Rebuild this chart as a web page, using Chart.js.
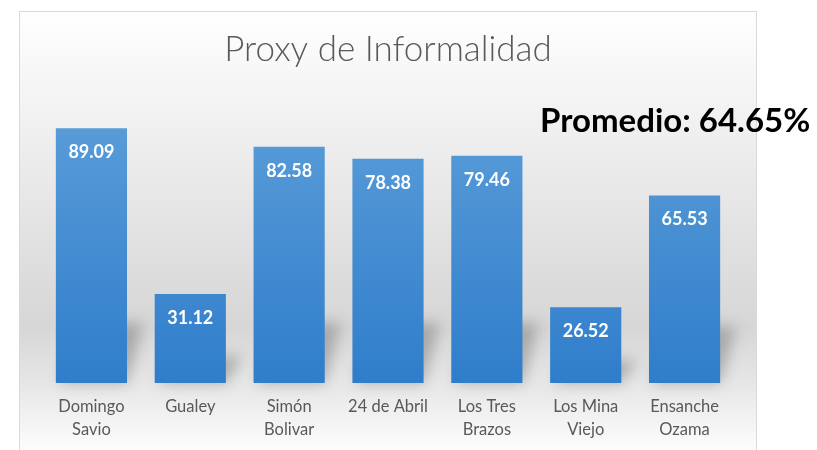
<!DOCTYPE html>
<html>
<head>
<meta charset="utf-8">
<script src="https://cdn.jsdelivr.net/npm/chart.js@4"></script>
<style>
  html, body { margin: 0; padding: 0; background: #fff; }
  #wrap { width: 817px; height: 450px; }
</style>
</head>
<body>
<div id="wrap"><canvas id="barChart" width="817" height="450"></canvas></div>
<script>
var categories = [['Domingo', 'Savio'], 'Gualey', ['Simón', 'Bolivar'], '24 de Abril', ['Los Tres', 'Brazos'], ['Los Mina', 'Viejo'], ['Ensanche', 'Ozama']];
var informalidad = [89.09, 31.12, 82.58, 78.38, 79.46, 26.52, 65.53];
var promedioText = 'Promedio: 64.65%';

// chart box with the gray gradient background
var boxPlugin = {
    id: 'box',
    beforeDraw: function(chart) {
        var c = chart.ctx;
        c.save();
        c.fillStyle = '#ffffff';
        c.fillRect(0, 0, chart.width, chart.height);
        var g = c.createLinearGradient(0, 11, 0, 450);
        g.addColorStop(0, '#ffffff');
        g.addColorStop(0.72, '#d6d6d6');
        g.addColorStop(0.86, '#e8e8e8');
        g.addColorStop(1, '#fdfdfd');
        c.fillStyle = g;
        c.fillRect(20, 11, 737, 450);
        c.strokeStyle = '#d9d9d9';
        c.lineWidth = 1;
        c.strokeRect(19.5, 11.5, 737, 450);
        c.restore();
    }
};

// soft shadow behind each bar
var shadowPlugin = {
    id: 'barShadow',
    beforeDatasetsDraw: function(chart) {
        var c = chart.ctx;
        var meta = chart.getDatasetMeta(0);
        c.save();
        c.filter = 'blur(7px)';
        c.fillStyle = 'rgba(120,120,120,0.5)';
        meta.data.forEach(function(bar) {
            var x0 = bar.x - bar.width / 2, x1 = bar.x + bar.width / 2;
            var h = Math.min((bar.base - bar.y) * 0.3, 60);
            c.beginPath();
            c.moveTo(x0 + 4, bar.base);
            c.lineTo(x1, bar.base);
            c.lineTo(x1 + 16, bar.base - h);
            c.lineTo(x0 + 20, bar.base - h);
            c.closePath();
            c.fill();
        });
        c.restore();
    }
};

// value labels inside bars and the average note
var labelPlugin = {
    id: 'valueLabels',
    afterDatasetsDraw: function(chart) {
        var c = chart.ctx;
        var meta = chart.getDatasetMeta(0);
        c.save();
        c.fillStyle = '#ffffff';
        c.font = 'bold 18px Lato';
        c.textAlign = 'center';
        c.textBaseline = 'middle';
        meta.data.forEach(function(bar, i) {
            c.fillText(informalidad[i].toFixed(2), bar.x, bar.y + 24);
        });
        c.fillStyle = '#000000';
        c.font = 'bold 33px Lato';
        c.textAlign = 'left';
        c.fillText(promedioText, 540, 121);
        c.restore();
    }
};

var ctx = document.getElementById('barChart').getContext('2d');
var myChart = new Chart(ctx, {
    type: 'bar',
    data: {
        labels: categories,
        datasets: [{
            label: 'Proxy de Informalidad',
            data: informalidad,
            backgroundColor: function(context) {
                var area = context.chart.chartArea;
                if (!area) return '#4a8fd3';
                var g = context.chart.ctx.createLinearGradient(0, area.top, 0, area.bottom);
                g.addColorStop(0, '#5d9fd9');
                g.addColorStop(1, '#2f7dcb');
                return g;
            },
            borderWidth: 0,
            categoryPercentage: 1.0,
            barPercentage: 0.72
        }]
    },
    options: {
        responsive: false,
        animation: false,
        layout: {
            padding: { left: 42, right: 83, top: 11, bottom: 0 }
        },
        plugins: {
            legend: { display: false },
            tooltip: { enabled: false },
            title: {
                display: true,
                text: 'Proxy de Informalidad',
                color: '#595959',
                font: { family: 'Lato', size: 35, weight: '300' },
                padding: { top: 18, bottom: 26 }
            }
        },
        scales: {
            x: {
                grid: { display: false, drawTicks: false },
                border: { display: false },
                ticks: {
                    color: '#595959',
                    font: { family: 'Lato', size: 16.5, lineHeight: 1.4 },
                    padding: 12.5,
                    maxRotation: 0
                },
                afterFit: function(scale) {
                    scale.height = 67;
                }
            },
            y: {
                display: false,
                min: 0,
                max: 100
            }
        }
    },
    plugins: [boxPlugin, shadowPlugin, labelPlugin]
});
</script>
</body>
</html>
